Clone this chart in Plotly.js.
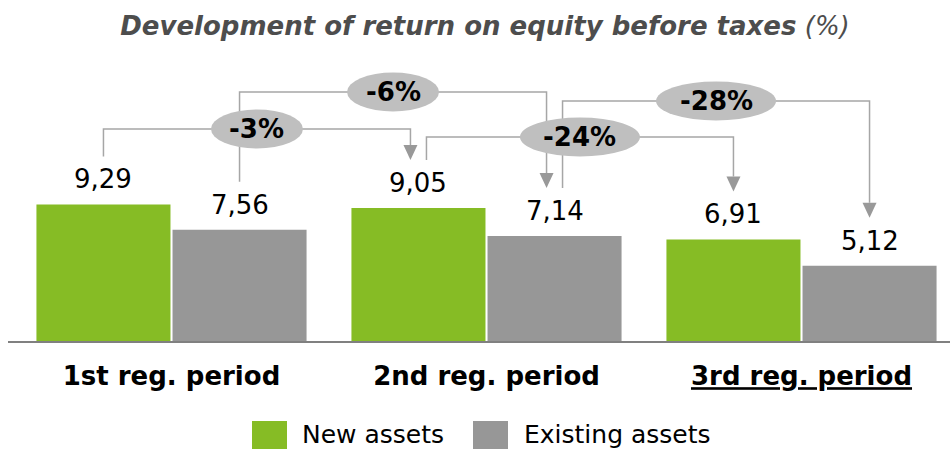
<!DOCTYPE html>
<html>
<head>
<meta charset="utf-8">
<script src="https://cdn.plot.ly/plotly-3.0.1.min.js"></script>
<style>html,body{margin:0;padding:0;background:#fff}#chart{width:950px;height:449px}</style>
</head>
<body>
<div id="chart"></div>
<script>
// ---- data ----
const categories = ['1st reg. period', '2nd reg. period', '3rd reg. period'];
const tickLabels = ['<b>1st reg. period</b>', '<b>2nd reg. period</b>', '<b><u>3rd reg. period</u></b>'];
const seriesNames = ['New assets', 'Existing assets'];
const newAssets = [9.29, 9.05, 6.91];
const existingAssets = [7.56, 7.14, 5.12];
// comparisons: [fromCategory, toCategory, seriesIndex]
const comparisons = [[0, 1, 0], [0, 1, 1], [1, 2, 0], [1, 2, 1]];

// ---- layout constants ----
const W = 950, H = 449;
const M = {l: 8, r: 0, t: 45, b: 108};
const plotW = W - M.l - M.r, plotH = H - M.t - M.b;
const baselinePx = H - M.b;           // 341
const pxPerUnitY = 14.7;
const yMax = plotH / pxPerUnitY;
const pxPerUnitX = 315;
const xMin = -(171.5 - M.l) / pxPerUnitX;
const xMax = xMin + plotW / pxPerUnitX;
const barOff = 0.216;
const colors = ['#86bc25', '#979797'];
const lineColor = '#a6a6a6', arrowColor = '#999999', ellipseColor = '#bfbfbf';
const levelsPx = [129, 92, 137, 101];   // bracket heights (px from top)

const yFromPx = py => (baselinePx - py) / pxPerUnitY;
const dy = px => px / pxPerUnitY;
const dx = px => px / pxPerUnitX;
const paperX = px => (px - M.l) / plotW;
const paperY = py => (baselinePx - py) / plotH;

const series = [newAssets, existingAssets];
const xs = categories.map((c, i) => i);
const fmt = v => v.toFixed(2).replace('.', ',');

const traces = series.map((vals, s) => ({
  type: 'bar', x: xs, y: vals, name: seriesNames[s],
  marker: {color: colors[s], line: {width: 0}},
  hoverinfo: 'skip', showlegend: false
}));

const annotations = [];
const shapes = [];

// value labels
series.forEach((vals, s) => {
  vals.forEach((v, i) => {
    annotations.push({
      x: i + (s === 0 ? -barOff : barOff), y: v, xref: 'x', yref: 'y',
      text: fmt(v), showarrow: false, yanchor: 'bottom', yshift: 8,
      font: {family: 'DejaVu Sans', size: 26, color: '#000000'}
    });
  });
});

// connectors
const lineShapes = [], ellipseShapes = [];
const gapAbove = dy(48), arrowH = dy(15), arrowHW = dx(7), nudge = dx(8);
comparisons.forEach(([a, b, s], k) => {
  const vals = series[s];
  const sOff = s === 0 ? -barOff : barOff;
  const hasIn = comparisons.some(c => c[1] === a && c[2] === s);
  const hasOut = comparisons.some(c => c[0] === b && c[2] === s);
  const x0 = a + sOff + (hasIn ? nudge : 0);
  const x1 = b + sOff - (hasOut ? nudge : 0);
  const y0 = vals[a] + gapAbove;
  const y1 = vals[b] + gapAbove;
  const lv = yFromPx(levelsPx[k]);
  lineShapes.push({
    type: 'path', xref: 'x', yref: 'y',
    path: `M${x0},${y0} L${x0},${lv} L${x1},${lv} L${x1},${y1 + arrowH}`,
    line: {color: lineColor, width: 1.5}
  });
  lineShapes.push({
    type: 'path', xref: 'x', yref: 'y',
    path: `M${x1 - arrowHW},${y1 + arrowH} L${x1 + arrowHW},${y1 + arrowH} L${x1},${y1} Z`,
    fillcolor: arrowColor, line: {width: 0}
  });
  const pct = Math.round((vals[b] / vals[a] - 1) * 100);
  const label = pct + '%';
  const xm = (x0 + x1) / 2;
  const hw = dx(label.length > 3 ? 60 : 46), hh = dy(19.5);
  ellipseShapes.push({
    type: 'circle', xref: 'x', yref: 'y',
    x0: xm - hw, x1: xm + hw, y0: lv - hh, y1: lv + hh,
    fillcolor: ellipseColor, line: {width: 0}
  });
  annotations.push({
    x: xm, y: lv, xref: 'x', yref: 'y', text: '<b>' + label + '</b>',
    showarrow: false, font: {family: 'DejaVu Sans', size: 26, color: '#000000'}
  });
});
shapes.push(...lineShapes, ...ellipseShapes);

// legend (drawn manually)
const legendItems = [[252, 300], [473, 522]];
seriesNames.forEach((n, s) => {
  const [sx, tx] = legendItems[s];
  shapes.push({
    type: 'rect', xref: 'paper', yref: 'paper',
    x0: paperX(sx), x1: paperX(sx + 35), y0: paperY(449), y1: paperY(421),
    fillcolor: colors[s], line: {width: 0}
  });
  annotations.push({
    x: paperX(tx), y: paperY(434), xref: 'paper', yref: 'paper',
    xanchor: 'left', yanchor: 'middle', text: n, showarrow: false,
    font: {family: 'DejaVu Sans', size: 25, color: '#000000'}
  });
});

const layout = {
  width: W, height: H, margin: M,
  paper_bgcolor: '#ffffff', plot_bgcolor: '#ffffff',
  title: {
    text: '<b><i>Development of return on equity before taxes</i></b><i> (%)</i>',
    font: {family: 'DejaVu Sans', size: 26, color: '#4d4d4d'},
    x: 485 / W, xanchor: 'center', xref: 'container',
    y: 1 - 26 / H, yanchor: 'middle', yref: 'container'
  },
  barmode: 'group', bargap: 0.136, bargroupgap: 0.015,
  xaxis: {
    range: [xMin, xMax], tickvals: xs, ticktext: tickLabels,
    showline: true, linecolor: '#808080', linewidth: 2,
    showgrid: false, zeroline: false, ticks: '',
    tickfont: {family: 'DejaVu Sans', size: 26, color: '#000000'},
    ticklabelstandoff: 11, fixedrange: true
  },
  yaxis: {range: [0, yMax], visible: false, fixedrange: true},
  shapes: shapes, annotations: annotations, showlegend: false
};

Plotly.newPlot('chart', traces, layout, {displayModeBar: false, staticPlot: true});
</script>
</body>
</html>
